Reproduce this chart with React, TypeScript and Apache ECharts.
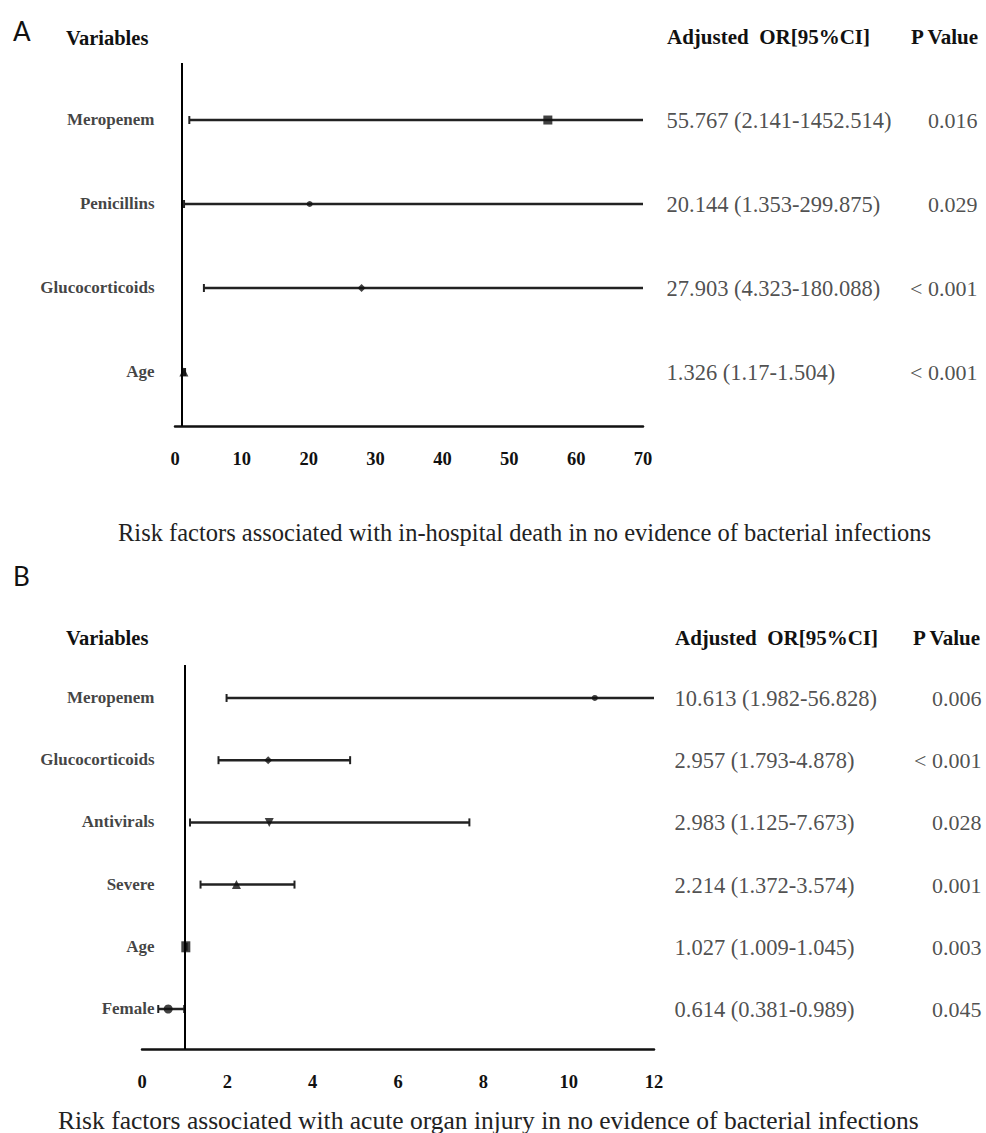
import React, { useEffect, useRef } from "react";
import * as echarts from "echarts";

// ---------- Data ----------
const catsA = ["Meropenem", "Penicillins", "Glucocorticoids", "Age"];
const orA = [55.767, 20.144, 27.903, 1.326];
const lowA = [2.141, 1.353, 4.323, 1.17];
const highA = [1452.514, 299.875, 180.088, 1.504];
const pA = ["0.016", "0.029", "< 0.001", "< 0.001"];
const ticksA = { min: 0, max: 70, interval: 10 };

const catsB = ["Meropenem", "Glucocorticoids", "Antivirals", "Severe", "Age", "Female"];
const orB = [10.613, 2.957, 2.983, 2.214, 1.027, 0.614];
const lowB = [1.982, 1.793, 1.125, 1.372, 1.009, 0.381];
const highB = [56.828, 4.878, 7.673, 3.574, 1.045, 0.989];
const pB = ["0.006", "< 0.001", "0.028", "0.001", "0.003", "0.045"];
const ticksB = { min: 0, max: 12, interval: 2 };

const captionA = "Risk factors associated with in-hospital death in no evidence of bacterial infections";
const captionB = "Risk factors associated with acute organ injury in no evidence of bacterial infections";

// ---------- Styles ----------
const markersA = [
  { symbol: "rect", size: 9, rotate: 0 },
  { symbol: "circle", size: 6, rotate: 0 },
  { symbol: "diamond", size: 8, rotate: 0 },
  { symbol: "triangle", size: 9, rotate: 0 },
];
const markersB = [
  { symbol: "circle", size: 6, rotate: 0 },
  { symbol: "diamond", size: 8, rotate: 0 },
  { symbol: "triangle", size: 9, rotate: 180 },
  { symbol: "triangle", size: 9, rotate: 0 },
  { symbol: "rect", size: [9, 11], rotate: 0 },
  { symbol: "circle", size: 9, rotate: 0 },
];

const SERIF = '"Liberation Serif", "Times New Roman", serif';
const SANS = 'Lato, "Open Sans", sans-serif';
const INK = "#111";

function panel(
  idx: number,
  cats: string[],
  or: number[],
  low: number[],
  high: number[],
  p: string[],
  markers: any[],
  ticks: any,
  nameDx: number,
  orDx: number,
  pDx: number
) {
  const n = cats.length;
  const yOf = (i: number) => n - i;
  const common = { xAxisIndex: idx, yAxisIndex: idx };
  const whiskers = {
    type: "custom",
    ...common,
    clip: true,
    silent: true,
    z: 2,
    encode: { x: [0, 1], y: 2 },
    data: cats.map((_, i) => [low[i], high[i], yOf(i)]),
    renderItem: (params: any, api: any) => {
      const y = api.value(2);
      const a = api.coord([api.value(0), y]);
      const b = api.coord([api.value(1), y]);
      const h = 4;
      const st = { stroke: "#222", lineWidth: 2.5 };
      const cs = { stroke: "#222", lineWidth: 2 };
      return {
        type: "group",
        children: [
          { type: "line", shape: { x1: a[0], y1: a[1], x2: b[0], y2: b[1] }, style: st },
          { type: "line", shape: { x1: a[0], y1: a[1] - h, x2: a[0], y2: a[1] + h }, style: cs },
          { type: "line", shape: { x1: b[0], y1: b[1] - h, x2: b[0], y2: b[1] + h }, style: cs },
        ],
      };
    },
  };
  const points = {
    type: "scatter",
    ...common,
    z: 3,
    silent: true,
    clip: false,
    itemStyle: { color: INK },
    data: cats.map((_, i) => ({
      value: [or[i], yOf(i)],
      symbol: markers[i].symbol,
      symbolSize: markers[i].size,
      symbolRotate: markers[i].rotate,
    })),
    markLine: {
      silent: true,
      symbol: ["none", "none"],
      label: { show: false },
      lineStyle: { color: "#000", width: 2, type: "solid" },
      data: [{ xAxis: 1 }],
    },
  };
  const labelSeries = (xv: number, dx: number, dy: number, align: string, fmt: (i: number) => string, textStyle: any) => ({
    type: "scatter",
    ...common,
    silent: true,
    clip: false,
    symbolSize: 1,
    itemStyle: { color: "rgba(0,0,0,0)" },
    data: cats.map((_, i) => [xv, yOf(i)]),
    label: {
      show: true,
      position: [dx, dy],
      align,
      verticalAlign: "middle",
      formatter: (prm: any) => fmt(prm.dataIndex),
      ...textStyle,
    },
  });
  return [
    whiskers,
    points,
    labelSeries(ticks.min, nameDx, 0, "right", (i) => cats[i], {
      fontFamily: SERIF,
      fontWeight: "bold",
      fontSize: 17,
      color: INK,
    }),
    labelSeries(ticks.max, orDx, 1, "left", (i) => `${or[i]} (${low[i]}-${high[i]})`, {
      fontFamily: SERIF,
      fontSize: 22.5,
      color: "#222",
    }),
    labelSeries(ticks.max, pDx, 1, "right", (i) => p[i], {
      fontFamily: SERIF,
      fontSize: 22,
      color: "#222",
    }),
  ];
}

function xAxisOf(idx: number, ticks: any) {
  return {
    type: "value",
    gridIndex: idx,
    min: ticks.min,
    max: ticks.max,
    interval: ticks.interval,
    axisLine: { show: true, onZero: false, lineStyle: { color: INK, width: 2.5 } },
    axisTick: { show: false },
    splitLine: { show: false },
    axisLabel: {
      margin: 23,
      fontFamily: SERIF,
      fontWeight: "bold",
      fontSize: 18.5,
      color: INK,
    },
  };
}

function yAxisOf(idx: number, max: number) {
  return {
    type: "value",
    gridIndex: idx,
    min: 0.357,
    max,
    show: false,
    splitLine: { show: false },
  };
}

function txt(x: number, y: number, text: string, font: any, align = "left") {
  return {
    type: "text",
    x,
    y,
    style: {
      text,
      fill: font.color || INK,
      font: font.font,
      textAlign: align,
      textVerticalAlign: "middle",
    },
  };
}

export default function App() {
  const ref = useRef<HTMLDivElement>(null);
  useEffect(() => {
    document.body.style.margin = "0";
    const chart = echarts.init(ref.current as HTMLDivElement, null, { renderer: "svg" });
    const hdr = { font: `bold 21px ${SERIF}` };
    const vars = { font: `bold 20.5px ${SERIF}` };
    const capA = { font: `24.5px ${SERIF}`, color: "#222" };
    const capB = { font: `25.5px ${SERIF}`, color: "#222" };
    const letter = { font: `26px ${SANS}` };
    chart.setOption({
      animation: false,
      backgroundColor: "#fff",
      grid: [
        { left: 175, top: 63, width: 468, height: 363 },
        { left: 142, top: 665, width: 512, height: 384 },
      ],
      xAxis: [xAxisOf(0, ticksA), xAxisOf(1, ticksB)],
      yAxis: [yAxisOf(0, 4.679), yAxisOf(1, 6.53)],
      series: [
        ...panel(0, catsA, orA, lowA, highA, pA, markersA, ticksA, -20, 24, 335),
        ...panel(1, catsB, orB, lowB, highB, pB, markersB, ticksB, 13, 21, 328),
      ],
      graphic: [
        txt(13, 31, "A", letter),
        txt(66, 38, "Variables", vars),
        txt(667, 37, "Adjusted  OR[95%CI]", hdr),
        txt(978, 37, "P Value", hdr, "right"),
        txt(118, 532, captionA, capA),
        txt(13, 576, "B", letter),
        txt(66, 638, "Variables", vars),
        txt(675, 638, "Adjusted  OR[95%CI]", hdr),
        txt(980, 638, "P Value", hdr, "right"),
        txt(58, 1120, captionB, capB),
      ],
    });
    return () => chart.dispose();
  }, []);
  return <div ref={ref} style={{ width: 986, height: 1133 }} />;
}
